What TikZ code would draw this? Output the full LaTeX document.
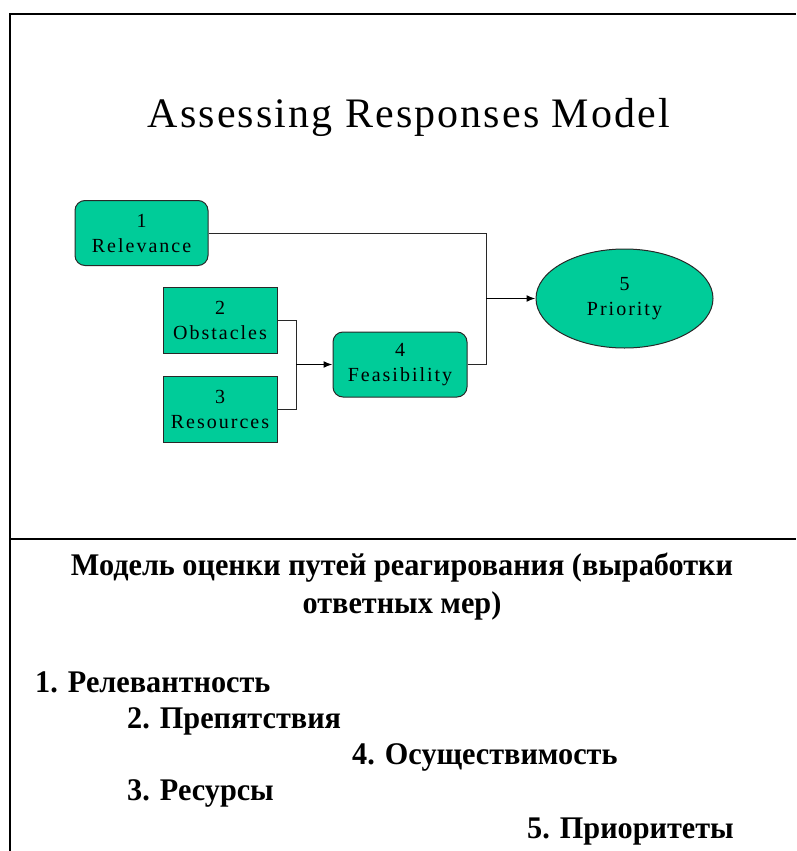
\documentclass[tikz,border=0pt]{standalone}
\usepackage{fontspec}
\setmainfont{Liberation Serif}
\newfontfamily\titlefont[LetterSpace=5]{Liberation Serif}
\newfontfamily\boxfont[LetterSpace=10]{Liberation Serif}
\newfontfamily\rufont[FakeStretch=0.96]{Liberation Serif}
\usetikzlibrary{arrows.meta,shapes.geometric}
\definecolor{teal}{RGB}{0,204,153}
\definecolor{edge}{RGB}{40,40,40}
\tikzset{
  box/.style={draw=edge, line width=1pt, fill=teal, align=center, inner sep=0pt,
    font=\boxfont\fontsize{20}{25}\selectfont},
  roundbox/.style={box, rounded corners=10pt},
  oval/.style={box, ellipse},
  wire/.style={draw=edge, line width=1pt},
  arrowwire/.style={draw=black, line width=1.6pt, -{Latex[length=9pt,width=7pt]}},
  frame/.style={draw=black, line width=2.2pt},
  rutext/.style={font=\rufont\bfseries\fontsize{31.5}{38}\selectfont, inner sep=0pt}
}
\begin{document}
\begin{tikzpicture}[x=1pt,y=-1pt]
\useasboundingbox (0,0) rectangle (796,851);
% frame
\coordinate (tl) at (10,14);
\coordinate (tr) at (796,14);
\coordinate (bl) at (10,851);
\coordinate (dl) at (10,539);
\coordinate (dr) at (796,539);
\draw[frame] (tr) -- (tl) -- (bl);
\draw[frame] (dl) -- (dr);
% title
\node[anchor=base, inner sep=0pt, font=\titlefont\fontsize{42}{50}\selectfont] (title) at (409,127) {Assessing Responses Model};
% boxes
\node[roundbox, minimum width=133pt, minimum height=65pt] (n1) at (141.5,233) {1\\Relevance};
\node[box, minimum width=114pt, minimum height=66pt] (n2) at (220,320) {2\\Obstacles};
\node[box, minimum width=114pt, minimum height=66pt] (n3) at (220,409) {3\\Resources};
\node[roundbox, minimum width=134pt, minimum height=65pt] (n4) at (400,364.5) {4\\Feasibility};
\node[oval, minimum width=177pt, minimum height=99pt] (n5) at (624.5,298.5) {5\\Priority};
% connectors
\coordinate (jl) at (296,364.5);
\coordinate (jr) at (486,298.5);
\draw[wire] (n2.east) -| (jl);
\draw[wire] (n3.east) -| (jl);
\draw[arrowwire] (jl) -- (n4.west);
\draw[wire] (n1.east) -| (jr);
\draw[wire] (n4.east) -| (jr);
\draw[arrowwire] (jr) -- (n5.west);
% russian text
\node[rutext, align=center] (head) at (402,587) {Модель оценки путей реагирования (выработки\\ответных мер)};
\node[rutext, anchor=base west] (r1) at (35,692) {1. Релевантность};
\node[rutext, anchor=base west] (r2) at (127,728) {2. Препятствия};
\node[rutext, anchor=base west] (r4) at (352,764) {4. Осуществимость};
\node[rutext, anchor=base west] (r3) at (127,800) {3. Ресурсы};
\node[rutext, anchor=base west] (r5) at (527,838) {5. Приоритеты};
\end{tikzpicture}
\end{document}
